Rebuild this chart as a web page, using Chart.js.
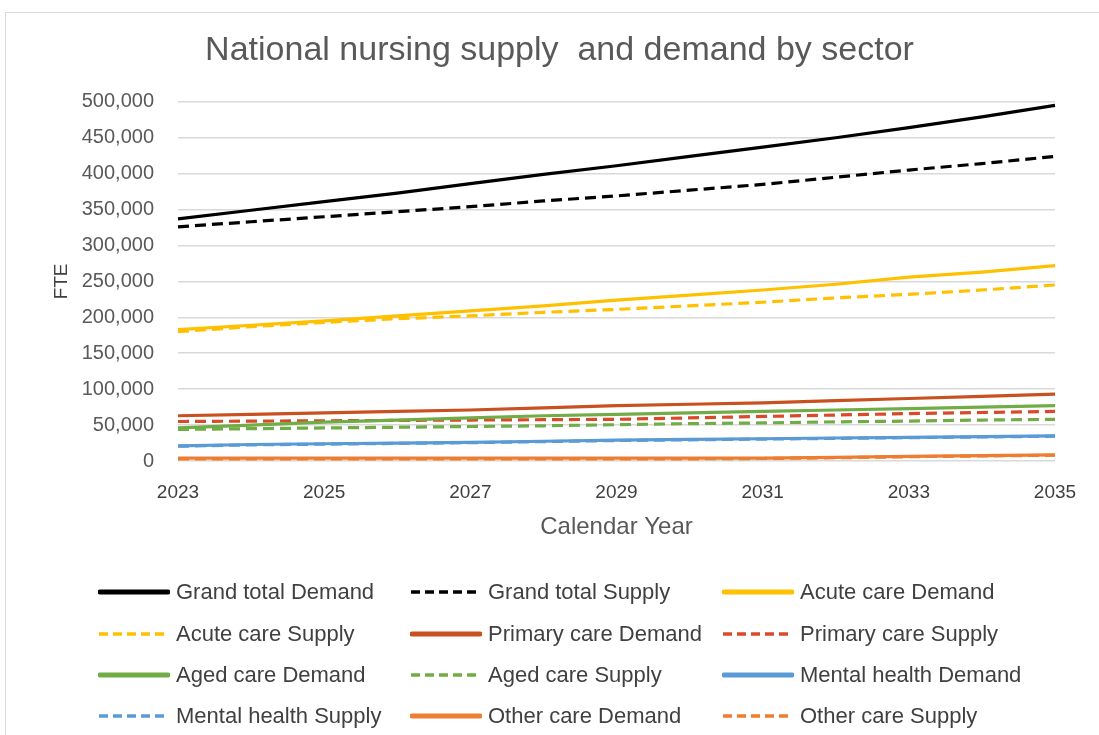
<!DOCTYPE html>
<html>
<head>
<meta charset="utf-8">
<title>National nursing supply and demand by sector</title>
<script src="https://cdn.jsdelivr.net/npm/chart.js@4.4.1/dist/chart.umd.min.js"></script>
<style>
  html, body { margin: 0; padding: 0; background: #fff; overflow: hidden; }
  body { width: 1099px; height: 735px; position: relative; font-family: "Liberation Sans", Arial, sans-serif; }
  #frame { position: absolute; left: 5px; top: 12px; width: 1120px; height: 760px; border: 1px solid #d9d9d9; box-sizing: border-box; }
  #wrap { position: absolute; left: 0; top: 0; width: 1099px; height: 560px; }
  #legenda { position: absolute; left: 0; top: 0; width: 1099px; height: 735px; pointer-events: none; }
  .item { position: absolute; height: 26px; display: flex; align-items: center; }
  .item svg { display: block; margin-right: 6px; }
  .item span { font-size: 22px; color: #404040; white-space: pre; }
</style>
</head>
<body>
<div id="frame"></div>
<div id="wrap"><canvas id="grafico" width="1099" height="560"></canvas></div>
<div id="legenda"></div>
<script>
// anos no eixo X
var anos = ['2023', '2024', '2025', '2026', '2027', '2028', '2029', '2030', '2031', '2032', '2033', '2034', '2035'];

// FTE por setor (demanda e oferta)
var grandTotalDemand = [337000, 349000, 361000, 373000, 386000, 399000, 411000, 424000, 437000, 450000, 464000, 479000, 495000];
var grandTotalSupply = [326000, 333000, 340000, 347000, 354000, 362000, 369000, 377000, 385000, 395000, 405000, 414000, 424000];
var acuteDemand = [183000, 189000, 195000, 202000, 209000, 216000, 224000, 231000, 238000, 246000, 256000, 263000, 272000];
var acuteSupply = [180000, 187000, 193000, 198000, 202000, 207000, 211000, 216000, 221000, 227000, 232000, 238000, 245000];
var primaryDemand = [63000, 65000, 67000, 69000, 71000, 74000, 77000, 79000, 81000, 84000, 87000, 90000, 93000];
var primarySupply = [55000, 55500, 56000, 56500, 57000, 57500, 58000, 60000, 62000, 64000, 66000, 67500, 69000];
var agedDemand = [46000, 50000, 54000, 57000, 60000, 63000, 65000, 67000, 69000, 71000, 73000, 75000, 77000];
var agedSupply = [44000, 45000, 46000, 47000, 48000, 49000, 50500, 52000, 53000, 54500, 55500, 57000, 58000];
var mentalDemand = [21000, 23000, 24000, 25000, 26000, 27500, 29000, 30000, 31000, 32000, 33000, 34000, 35000];
var mentalSupply = [20500, 22500, 23500, 24500, 25500, 27000, 28500, 29500, 30500, 31500, 32500, 33500, 34500];
var otherDemand = [4000, 4000, 4000, 4000, 4000, 4000, 4000, 4000, 4000, 5000, 6500, 7500, 8500];
var otherSupply = [3000, 3000, 3000, 3000, 3000, 3000, 3000, 3000, 3500, 4500, 6000, 7000, 8000];

// ticks do eixo Y
var ticksY = [0, 50000, 100000, 150000, 200000, 250000, 300000, 350000, 400000, 450000, 500000];

var tracejado = [11, 6];
var fonte = '"Liberation Sans", Arial, sans-serif';

function serie(label, data, cor, dash) {
    return {
        label: label,
        data: data,
        borderColor: cor,
        backgroundColor: cor,
        borderWidth: 3.2,
        borderDash: dash ? tracejado : [],
        pointRadius: 0,
        pointHoverRadius: 0,
        tension: 0,
        fill: false
    };
}

var series = [
    serie('Grand total Demand', grandTotalDemand, '#000000', false),
    serie('Grand total Supply', grandTotalSupply, '#000000', true),
    serie('Acute care Demand', acuteDemand, '#FFC000', false),
    serie('Acute care Supply', acuteSupply, '#FFC000', true),
    serie('Primary care Demand', primaryDemand, '#C9511F', false),
    serie('Primary care Supply', primarySupply, '#D94A2B', true),
    serie('Aged care Demand', agedDemand, '#70AD47', false),
    serie('Aged care Supply', agedSupply, '#70AD47', true),
    serie('Mental health Demand', mentalDemand, '#5B9BD5', false),
    serie('Mental health Supply', mentalSupply, '#5B9BD5', true),
    serie('Other care Demand', otherDemand, '#ED7D31', false),
    serie('Other care Supply', otherSupply, '#ED7D31', true)
];

// as series seguintes ficam por cima das anteriores
series.forEach(function(s, i) { s.order = series.length - i; });

// centraliza o titulo na largura toda do canvas
var tituloCentro = {
    id: 'tituloCentro',
    afterLayout: function(chart) {
        chart.titleBlock.left = 20;
        chart.titleBlock.right = chart.width;
    }
};

var ctx = document.getElementById('grafico').getContext('2d');
window.myChart = new Chart(ctx, {
    type: 'line',
    data: { labels: anos, datasets: series },
    plugins: [tituloCentro],
    options: {
        responsive: false,
        animation: false,
        events: [],
        layout: { padding: { left: 0, right: 44, top: 0, bottom: 0 } },
        plugins: {
            legend: { display: false },
            tooltip: { enabled: false },
            title: {
                display: true,
                text: 'National nursing supply  and demand by sector',
                color: '#595959',
                font: { family: fonte, size: 34, weight: 'normal' },
                padding: { top: 30, bottom: 31 }
            }
        },
        scales: {
            x: {
                offset: false,
                grid: { display: false, drawTicks: false },
                border: { display: false },
                ticks: {
                    autoSkip: false,
                    maxRotation: 0,
                    padding: 20,
                    color: '#404040',
                    font: { family: fonte, size: 19 },
                    callback: function(v, i) { return i % 2 === 0 ? this.getLabelForValue(v) : ''; }
                },
                title: {
                    display: true,
                    text: 'Calendar Year',
                    color: '#595959',
                    font: { family: fonte, size: 24 },
                    padding: { top: 0, bottom: 18 }
                },
                afterFit: function(scale) { scale.height = 560 - 461; }
            },
            y: {
                min: 0,
                max: 500000,
                afterBuildTicks: function(scale) {
                    scale.ticks = ticksY.map(function(v) { return { value: v }; });
                },
                grid: { color: '#d9d9d9', lineWidth: 1.5, drawTicks: false },
                border: { display: false },
                ticks: {
                    padding: 24,
                    color: '#595959',
                    font: { family: fonte, size: 20 },
                    callback: function(v) { return v.toLocaleString('en-US'); }
                },
                title: {
                    display: true,
                    text: 'FTE',
                    color: '#404040',
                    font: { family: fonte, size: 19 },
                    padding: { top: 50, bottom: 0 }
                },
                afterFit: function(scale) { scale.width = 178; }
            }
        }
    }
});

// legenda em 3 colunas, montada a partir dos datasets
var colunasX = [98, 410, 722];
var linhasY = [592, 634, 675, 716];
var legenda = document.getElementById('legenda');
window.myChart.data.datasets.forEach(function(ds, i) {
    var col = i % 3, lin = Math.floor(i / 3);
    var dash = ds.borderDash.length > 0;
    var div = document.createElement('div');
    div.className = 'item';
    div.style.left = colunasX[col] + 'px';
    div.style.top = (linhasY[lin] - 13) + 'px';
    var linha = dash
        ? '<line x1="1" y1="6" x2="71" y2="6" stroke="' + ds.borderColor + '" stroke-width="3.5" stroke-dasharray="9 5"/>'
        : '<line x1="2" y1="6" x2="70" y2="6" stroke="' + ds.borderColor + '" stroke-width="5" stroke-linecap="round"/>';
    div.innerHTML = '<svg width="72" height="12">' + linha + '</svg><span>' + ds.label + '</span>';
    legenda.appendChild(div);
});
</script>
</body>
</html>
